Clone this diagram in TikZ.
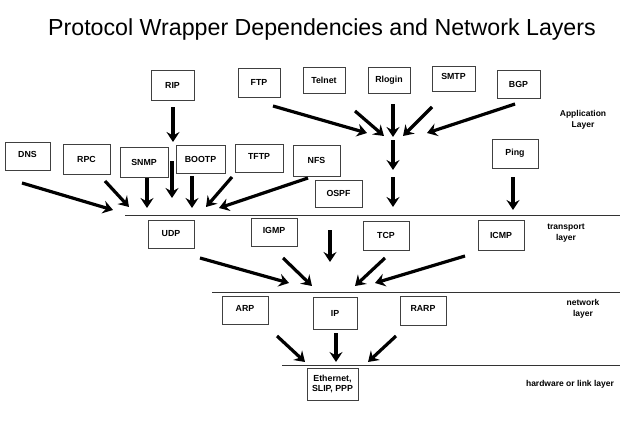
\documentclass[tikz,border=0pt]{standalone}
\usepackage{fontspec}
\setmainfont{Liberation Sans}
\usetikzlibrary{arrows.meta}
\begin{document}
\begin{tikzpicture}[x=1pt,y=-1pt,
  box/.style={draw=black!75,line width=0.8pt,inner sep=0pt,font=\fontsize{8.8}{10}\selectfont\bfseries,align=center},
  up/.style={text depth=3.5pt},
  lbl/.style={inner sep=0pt,font=\fontsize{8.5}{11}\selectfont\bfseries,align=center},
  layline/.style={draw=black!80,line width=0.9pt},
  arr/.style={line width=3.2pt,-{Stealth[length=10pt,width=13pt,inset=3.5pt]}}]
\useasboundingbox (0,0) rectangle (640,439);
\node[inner sep=0pt,font=\fontsize{23.2}{26}\selectfont] (title) at (322,30) {Protocol Wrapper Dependencies and Network Layers};
% application row
\node[box,minimum width=43pt,minimum height=30pt] (rip) at (172.5,85) {RIP};
\node[box,minimum width=42pt,minimum height=29pt] (ftp) at (259,82.5) {FTP};
\node[box,minimum width=42pt,minimum height=26pt] (telnet) at (324,80) {Telnet};
\node[box,minimum width=42pt,minimum height=26pt] (rlogin) at (389,80) {Rlogin};
\node[box,up,minimum width=43pt,minimum height=25pt] (smtp) at (453.5,78.5) {SMTP};
\node[box,minimum width=43pt,minimum height=28pt] (bgp) at (518.5,84) {BGP};
\node[lbl] (applbl) at (583,120) {Application\\Layer};
% second row
\node[box,up,minimum width=45pt,minimum height=28pt] (dns) at (27.5,156) {DNS};
\node[box,minimum width=47pt,minimum height=30pt] (rpc) at (86.5,159.5) {RPC};
\node[box,minimum width=48pt,minimum height=30pt] (snmp) at (144,162) {SNMP};
\node[box,minimum width=49pt,minimum height=28pt] (bootp) at (200.5,159) {BOOTP};
\node[box,up,minimum width=48pt,minimum height=28pt] (tftp) at (259,158) {TFTP};
\node[box,minimum width=47pt,minimum height=31pt] (nfs) at (316.5,160.5) {NFS};
\node[box,minimum width=47pt,minimum height=27pt] (ospf) at (338.5,193.5) {OSPF};
\node[box,minimum width=46pt,minimum height=29pt] (ping) at (515,153.5) {Ping};
% transport
\coordinate (l1a) at (125,215); \coordinate (l1b) at (620,215);
\draw[layline] (l1a) -- (l1b);
\node[box,minimum width=46pt,minimum height=28pt] (udp) at (171,234) {UDP};
\node[box,up,minimum width=46pt,minimum height=28pt] (igmp) at (274,232) {IGMP};
\node[box,minimum width=46pt,minimum height=29pt] (tcp) at (386,235.5) {TCP};
\node[box,minimum width=46pt,minimum height=30pt] (icmp) at (501,235) {ICMP};
\node[lbl] (trlbl) at (566,233) {transport\\layer};
% network
\coordinate (l2a) at (212,292); \coordinate (l2b) at (620,292);
\draw[layline] (l2a) -- (l2b);
\node[box,up,minimum width=46pt,minimum height=28pt] (arp) at (245,310) {ARP};
\node[box,minimum width=44pt,minimum height=32pt] (ip) at (335,313.5) {IP};
\node[box,up,minimum width=46pt,minimum height=29pt] (rarp) at (423,310.5) {RARP};
\node[lbl] (netlbl) at (583,309) {network\\layer};
% link
\coordinate (l3a) at (282,365); \coordinate (l3b) at (620,365);
\draw[layline] (l3a) -- (l3b);
\node[box,minimum width=51pt,minimum height=32pt] (eth) at (332.5,384) {Ethernet,\\SLIP, PPP};
\node[lbl] (hwlbl) at (570,384) {hardware or link layer};
% arrow end points
\coordinate (ripA) at (173,107); \coordinate (ripB) at (173,142);
\coordinate (ftpA) at (273,106); \coordinate (ftpB) at (367,133);
\coordinate (telA) at (355,111); \coordinate (telB) at (384,136);
\coordinate (rloA) at (393,104); \coordinate (rloB) at (393,137);
\coordinate (smtA) at (432,107); \coordinate (smtB) at (403,136);
\coordinate (bgpA) at (515,104); \coordinate (bgpB) at (427,133);
\coordinate (d1A) at (393,140); \coordinate (d1B) at (393,170);
\coordinate (d2A) at (393,177); \coordinate (d2B) at (393,207);
\coordinate (pingA) at (513,177); \coordinate (pingB) at (513,210);
\coordinate (rip2A) at (172,161); \coordinate (rip2B) at (172,198);
\coordinate (dnsA) at (22,183); \coordinate (dnsB) at (113,210);
\coordinate (rpcA) at (105,181); \coordinate (rpcB) at (129,207);
\coordinate (snmpA) at (147,178); \coordinate (snmpB) at (147,208);
\coordinate (bootA) at (192,176); \coordinate (bootB) at (192,208);
\coordinate (tftpA) at (232,177); \coordinate (tftpB) at (206,207);
\coordinate (nfsA) at (308,178); \coordinate (nfsB) at (219,208);
\coordinate (midA) at (330,230); \coordinate (midB) at (330,262);
\coordinate (udpA) at (200,258); \coordinate (udpB) at (289,283);
\coordinate (igmpA) at (283,258); \coordinate (igmpB) at (312,286);
\coordinate (tcpA) at (385,258); \coordinate (tcpB) at (355,286);
\coordinate (icmpA) at (465,256); \coordinate (icmpB) at (375,283);
\coordinate (arpA) at (277,336); \coordinate (arpB) at (305,362);
\coordinate (ipA) at (336,333); \coordinate (ipB) at (336,362);
\coordinate (rarpA) at (396,336); \coordinate (rarpB) at (368,362);
\foreach \n in {rip,ftp,tel,rlo,smt,bgp,d1,d2,ping,rip2,dns,rpc,snmp,boot,tftp,nfs,mid,udp,igmp,tcp,icmp,arp,ip,rarp}
  \draw[arr] (\n A) -- (\n B);
\end{tikzpicture}
\end{document}
